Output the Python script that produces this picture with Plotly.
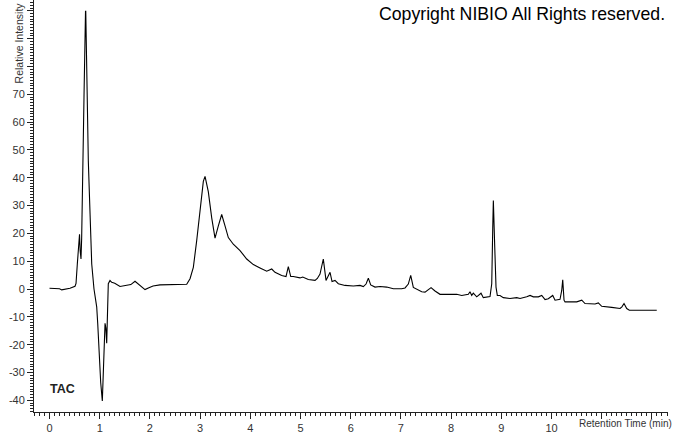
import plotly.graph_objects as go

# Retention time (min) and relative intensity
retention_time = [
    0.00, 0.10, 0.20, 0.243, 0.30, 0.408, 0.508, 0.528, 0.554, 0.582, 0.598, 0.610, 0.627,
    0.640, 0.653, 0.667, 0.687, 0.717, 0.722, 0.737, 0.753, 0.773, 0.793, 0.813, 0.841,
    0.886, 0.940, 0.960, 0.992, 1.020, 1.052, 1.086, 1.106, 1.122, 1.139, 1.171, 1.205,
    1.239, 1.30, 1.404, 1.538, 1.62, 1.703, 1.803, 1.902, 1.98, 2.062, 2.20, 2.50, 2.733,
    2.799, 2.865, 2.932, 2.998, 3.064, 3.098, 3.163, 3.231, 3.297, 3.363, 3.430, 3.496,
    3.562, 3.661, 3.795, 3.928, 4.060, 4.193, 4.327, 4.426, 4.492, 4.625, 4.711, 4.757,
    4.805, 4.857, 4.990, 5.044, 5.155, 5.289, 5.335, 5.388, 5.454, 5.508, 5.588, 5.628,
    5.687, 5.753, 5.886, 6.052, 6.185, 6.251, 6.305, 6.351, 6.398, 6.484, 6.584, 6.717,
    6.849, 7.016, 7.082, 7.147, 7.195, 7.247, 7.347, 7.414, 7.480, 7.600, 7.679, 7.779,
    7.978, 8.112, 8.211, 8.343, 8.376, 8.410, 8.442, 8.510, 8.595, 8.641, 8.775, 8.809,
    8.829, 8.841, 8.869, 8.894, 8.920, 8.974, 9.040, 9.173, 9.307, 9.373, 9.506, 9.572,
    9.638, 9.737, 9.805, 9.871, 9.936, 10.024, 10.070, 10.169, 10.203, 10.223, 10.249,
    10.269, 10.502, 10.602, 10.667, 10.867, 10.932, 11.000, 11.199, 11.365, 11.402,
    11.444, 11.498, 11.550, 12.096,
]
relative_intensity = [
    0.3, 0.3, 0.1, -0.3, -0.1, 0.3, 1.0, 2.0, 9.0, 17.4, 19.7, 14.0, 10.8,
    18.0, 30.0, 38.0, 69.0, 99.8, 99.8, 84.0, 62.0, 46.0, 35.0, 22.0, 9.0,
    0.0, -6.4, -12.3, -25.0, -33.7, -40.2, -20.6, -12.3, -14.0, -19.5, 1.9, 3.1,
    2.4, 2.1, 0.9, 1.2, 1.6, 2.8, 1.2, -0.2, 0.5, 1.1, 1.5, 1.6, 1.7,
    3.7, 7.8, 17.4, 29.0, 38.7, 40.5, 35.0, 25.6, 18.3, 22.7, 26.8, 22.7,
    18.5, 16.1, 13.8, 10.8, 8.8, 7.6, 6.4, 7.2, 6.0, 4.9, 4.5, 8.1,
    4.5, 4.5, 4.0, 4.3, 3.4, 3.1, 3.8, 5.4, 10.8, 3.1, 6.0, 2.7,
    3.1, 1.9, 1.3, 1.1, 1.3, 0.9, 1.8, 3.9, 1.5, 0.7, 0.9, 0.7,
    0.1, 0.1, 0.4, 1.8, 4.9, 0.6, -0.2, -1.0, -1.1, 0.5, -0.7, -1.9,
    -1.9, -1.9, -2.3, -1.9, -1.0, -2.3, -1.5, -2.8, -1.5, -3.1, -2.7, 1.9,
    22.0, 31.8, 15.0, 0.7, -2.3, -2.3, -3.1, -3.4, -3.1, -3.4, -2.8, -2.3,
    -2.8, -2.8, -2.3, -3.8, -3.5, -2.3, -4.0, -3.7, -0.5, 3.3, -4.0,
    -4.6, -4.6, -4.0, -5.2, -5.4, -5.0, -6.2, -6.6, -7.0, -6.4,
    -5.2, -7.0, -7.6, -7.6,
]

x_tick_vals = list(range(0, 13))
x_tick_text = [str(v) if v <= 10 else "" for v in x_tick_vals]
y_tick_vals = list(range(-40, 101, 10))
y_tick_text = [str(v) if v <= 70 else "" for v in y_tick_vals]

FONT = "Arial, Liberation Sans, sans-serif"

fig = go.Figure()
fig.add_trace(go.Scatter(
    x=retention_time, y=relative_intensity, mode="lines",
    line=dict(color="black", width=1.1), showlegend=False, hoverinfo="skip",
))

axis_common = dict(
    showline=True, linecolor="#222", linewidth=1, showgrid=False, zeroline=False,
    ticks="outside", tickcolor="#222", ticklen=6, tickwidth=1,
    tickfont=dict(family=FONT, size=11, color="#333"),
)

fig.update_layout(
    width=674, height=434,
    margin=dict(l=34, r=6, t=0, b=18),
    paper_bgcolor="white", plot_bgcolor="white",
    xaxis=dict(
        range=[-0.309, 12.32], tickmode="array", tickvals=x_tick_vals, ticktext=x_tick_text,
        minor=dict(dtick=0.1, ticks="outside", ticklen=3, tickcolor="#222", showgrid=False),
        **axis_common,
    ),
    yaxis=dict(
        range=[-44.2, 103.9], tickmode="array", tickvals=y_tick_vals, ticktext=y_tick_text,
        minor=dict(dtick=1, ticks="outside", ticklen=3, tickcolor="#222", showgrid=False),
        **axis_common,
    ),
    annotations=[
        dict(text="Copyright NIBIO All Rights reserved.", xref="paper", yref="paper",
             x=0.9984, y=0.9663, xanchor="right", yanchor="middle", showarrow=False,
             font=dict(family=FONT, size=17.7, color="black")),
        dict(text="<b>TAC</b>", xref="paper", yref="paper",
             x=0.0221, y=0.0553, xanchor="left", yanchor="middle", showarrow=False,
             font=dict(family=FONT, size=12.5, color="#222")),
        dict(text="Retention Time (min)", xref="paper", yref="paper",
             x=0.857, y=-0.0288, xanchor="left", yanchor="middle", showarrow=False,
             font=dict(family=FONT, size=10, color="#333")),
        dict(text="Relative Intensity", xref="paper", yref="paper", textangle=-90,
             x=-0.0237, y=0.897, xanchor="center", yanchor="middle", showarrow=False,
             font=dict(family=FONT, size=10.5, color="#333")),
    ],
)

fig.write_html(
    "out.html",
    config={"displayModeBar": False},
    post_script="document.body.style.margin='0px';document.body.style.overflow='hidden';",
)
